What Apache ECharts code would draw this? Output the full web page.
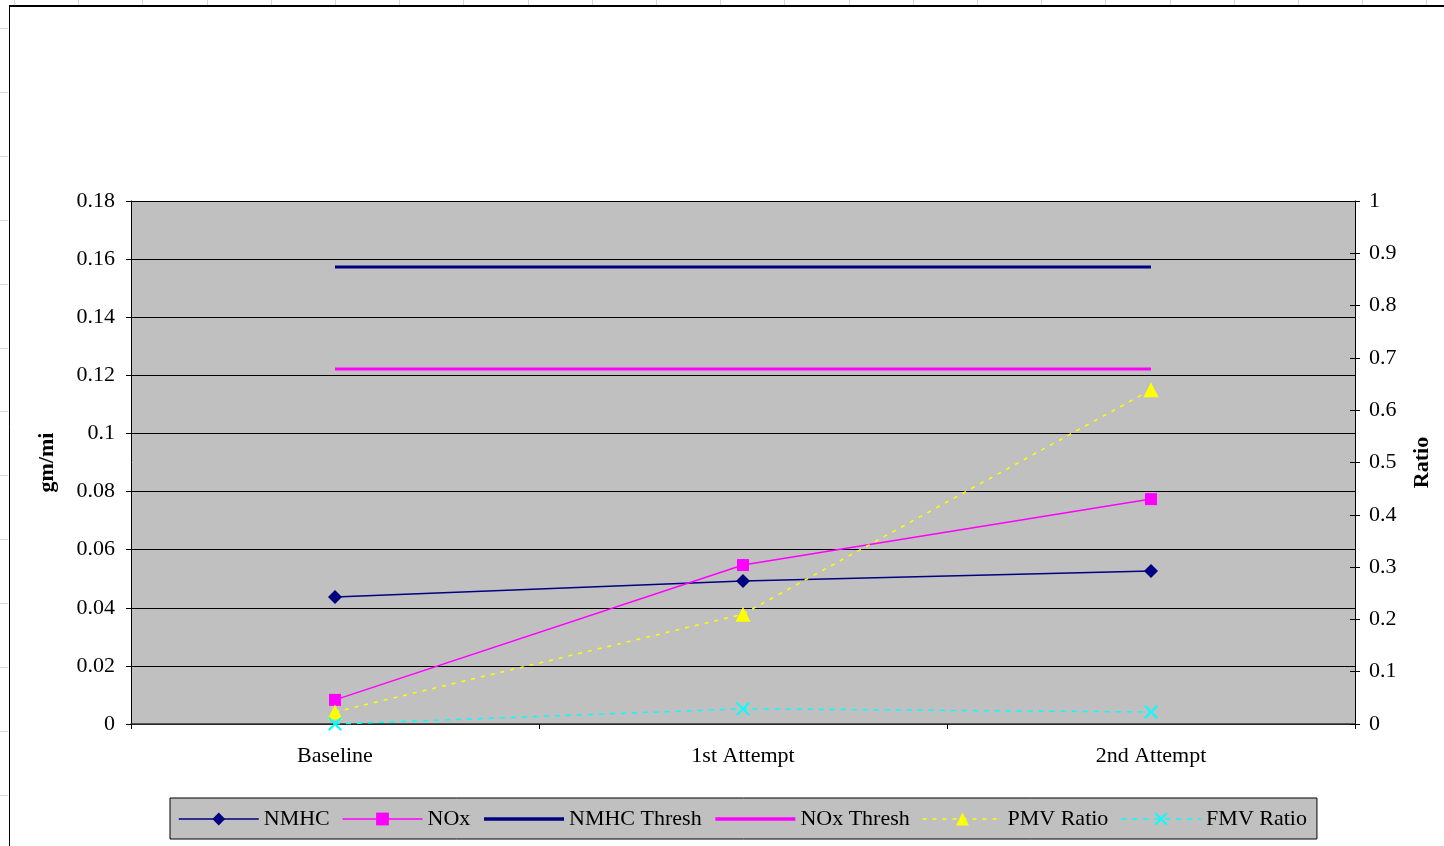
<!DOCTYPE html>
<html>
<head>
<meta charset="utf-8">
<title>Emissions and Ratio by Attempt</title>
<script src="https://cdn.jsdelivr.net/npm/echarts@6/dist/echarts.min.js"></script>
<style>
  html, body { margin: 0; padding: 0; background: #fff; }
  #chart { width: 1444px; height: 846px; }
</style>
</head>
<body>
<div id="chart"></div>
<script>
// Test stages on the category axis
const categories = ['Baseline', '1st Attempt', '2nd Attempt'];

// Emissions in gm/mi (left axis)
const nmhc = [0.0437, 0.0492, 0.0527];
const nox = [0.0083, 0.0547, 0.0774];
const nmhcThresh = [0.1573, 0.1573, 0.1573];
const noxThresh = [0.1222, 0.1222, 0.1222];

// Ratios (right axis)
const pmvRatio = [0.023, 0.21, 0.639];
const fmvRatio = [0.0, 0.029, 0.023];

// Axis ranges
const leftAxis = { min: 0, max: 0.18, interval: 0.02 };
const rightAxis = { min: 0, max: 1, interval: 0.1 };

const FONT = 'Liberation Serif';
const FONT_SIZE = 22;
const NAVY = '#000080';
const MAGENTA = '#FF00FF';
const YELLOW = '#FFFF00';
const CYAN = '#00FFFF';
const PLOT_BG = '#C0C0C0';
const SHEET_GRID = '#cdd7f2';

// filled X-shaped marker
const crossSymbol = 'path://M0,1L1,0L5,4L9,0L10,1L6,5L10,9L9,10L5,6L1,10L0,9L4,5Z';

// legend entries; threshold lines show a plain thick line with no marker
const hiddenMarker = { color: 'rgba(0,0,0,0)', borderColor: 'rgba(0,0,0,0)', borderWidth: 0 };
const legendItems = [
  { name: 'NMHC', lineStyle: { width: 1.5 } },
  { name: 'NOx', lineStyle: { width: 1.5 } },
  { name: 'NMHC Thresh', lineStyle: { width: 3.5 }, itemStyle: hiddenMarker },
  { name: 'NOx Thresh', lineStyle: { width: 3.5 }, itemStyle: hiddenMarker },
  { name: 'PMV Ratio', lineStyle: { width: 1.5 } },
  { name: 'FMV Ratio', lineStyle: { width: 1.5 } }
];

// faint worksheet cell lines peeking out around the chart frame
const sheetMarks = [];
for (let x = 14; x < 1444; x += 64.2) {
  sheetMarks.push({
    type: 'line', z: -20, silent: true,
    shape: { x1: Math.round(x) + 0.5, y1: 0, x2: Math.round(x) + 0.5, y2: 5 },
    style: { stroke: SHEET_GRID, lineWidth: 1 }
  });
}
for (let y = 28; y < 846; y += 63.9) {
  sheetMarks.push({
    type: 'line', z: -20, silent: true,
    shape: { x1: 0, y1: Math.round(y) + 0.5, x2: 8, y2: Math.round(y) + 0.5 },
    style: { stroke: SHEET_GRID, lineWidth: 1 }
  });
}

const chart = echarts.init(document.getElementById('chart'), null, { renderer: 'canvas' });

const option = {
  backgroundColor: '#ffffff',
  animation: false,
  textStyle: { fontFamily: FONT, color: '#000' },
  graphic: sheetMarks.concat([
    {
      type: 'rect',
      z: -10,
      shape: { x: 9.5, y: 6.5, width: 1450, height: 850 },
      style: { fill: 'none', stroke: '#000', lineWidth: 1 }
    },
    {
      type: 'rect',
      z: -10,
      shape: { x: 9, y: 5, width: 1440, height: 2 },
      style: { fill: '#000' }
    }
  ]),
  grid: {
    left: 131,
    right: 89,
    top: 201,
    bottom: 122,
    show: true,
    backgroundColor: PLOT_BG,
    borderWidth: 0,
    containLabel: false
  },
  legend: {
    left: 170,
    top: 798,
    orient: 'horizontal',
    backgroundColor: PLOT_BG,
    borderColor: '#000',
    borderWidth: 1,
    borderRadius: 0,
    padding: [10, 10, 9, 8],
    itemWidth: 80,
    itemHeight: 16,
    itemGap: 12,
    textStyle: { fontFamily: FONT, fontSize: FONT_SIZE, color: '#000' },
    data: legendItems
  },
  xAxis: {
    type: 'category',
    data: categories,
    boundaryGap: true,
    axisLine: { show: true, lineStyle: { color: '#333', width: 1.5 } },
    axisTick: { show: true, length: 5, inside: false, lineStyle: { color: '#000' } },
    axisLabel: { fontFamily: FONT, fontSize: FONT_SIZE, color: '#000', margin: 21 },
    splitLine: { show: false }
  },
  yAxis: [
    {
      type: 'value',
      position: 'left',
      min: leftAxis.min,
      max: leftAxis.max,
      interval: leftAxis.interval,
      name: 'gm/mi',
      nameLocation: 'middle',
      nameRotate: 90,
      nameGap: 73,
      nameTextStyle: { fontFamily: FONT, fontSize: FONT_SIZE, fontWeight: 'bold', color: '#000' },
      axisLine: { show: true, lineStyle: { color: '#000', width: 1 } },
      axisTick: { show: true, length: 5, inside: false, lineStyle: { color: '#000' } },
      axisLabel: { fontFamily: FONT, fontSize: FONT_SIZE, color: '#000', margin: 16 },
      splitLine: { show: true, lineStyle: { color: '#000', width: 1 } }
    },
    {
      type: 'value',
      position: 'right',
      min: rightAxis.min,
      max: rightAxis.max,
      interval: rightAxis.interval,
      name: 'Ratio',
      nameLocation: 'middle',
      nameRotate: 90,
      nameGap: 56,
      nameTextStyle: { fontFamily: FONT, fontSize: FONT_SIZE, fontWeight: 'bold', color: '#000' },
      axisLine: { show: true, lineStyle: { color: '#000', width: 1 } },
      axisTick: { show: true, length: 5, inside: false, lineStyle: { color: '#000' } },
      axisLabel: { fontFamily: FONT, fontSize: FONT_SIZE, color: '#000', margin: 14 },
      splitLine: { show: false }
    },
    {
      // inner half of the crossing tick marks on the ratio axis
      type: 'value',
      position: 'right',
      min: rightAxis.min,
      max: rightAxis.max,
      interval: rightAxis.interval,
      axisLine: { show: false },
      axisTick: { show: true, length: 5, inside: true, lineStyle: { color: '#000' } },
      axisLabel: { show: false },
      splitLine: { show: false }
    }
  ],
  series: [
    {
      name: 'NMHC',
      type: 'line',
      yAxisIndex: 0,
      data: nmhc,
      symbol: 'diamond',
      symbolSize: 14,
      lineStyle: { color: NAVY, width: 1.5 },
      itemStyle: { color: NAVY },
      z: 3
    },
    {
      name: 'NOx',
      type: 'line',
      yAxisIndex: 0,
      data: nox,
      symbol: 'rect',
      symbolSize: 12,
      lineStyle: { color: MAGENTA, width: 1.5 },
      itemStyle: { color: MAGENTA },
      z: 4
    },
    {
      name: 'NMHC Thresh',
      type: 'line',
      yAxisIndex: 0,
      data: nmhcThresh,
      symbol: 'circle',
      showSymbol: false,
      lineStyle: { color: NAVY, width: 3 },
      itemStyle: { color: NAVY },
      z: 5
    },
    {
      name: 'NOx Thresh',
      type: 'line',
      yAxisIndex: 0,
      data: noxThresh,
      symbol: 'circle',
      showSymbol: false,
      lineStyle: { color: MAGENTA, width: 3 },
      itemStyle: { color: MAGENTA },
      z: 6
    },
    {
      name: 'PMV Ratio',
      type: 'line',
      yAxisIndex: 1,
      data: pmvRatio,
      symbol: 'triangle',
      symbolSize: 15,
      lineStyle: { color: YELLOW, width: 1.5, type: [4, 6] },
      itemStyle: { color: YELLOW },
      z: 7
    },
    {
      name: 'FMV Ratio',
      type: 'line',
      yAxisIndex: 1,
      data: fmvRatio,
      symbol: crossSymbol,
      symbolSize: 14,
      lineStyle: { color: CYAN, width: 1.5, type: [5, 6] },
      itemStyle: { color: CYAN },
      z: 8
    }
  ]
};

chart.setOption(option);
</script>
</body>
</html>
